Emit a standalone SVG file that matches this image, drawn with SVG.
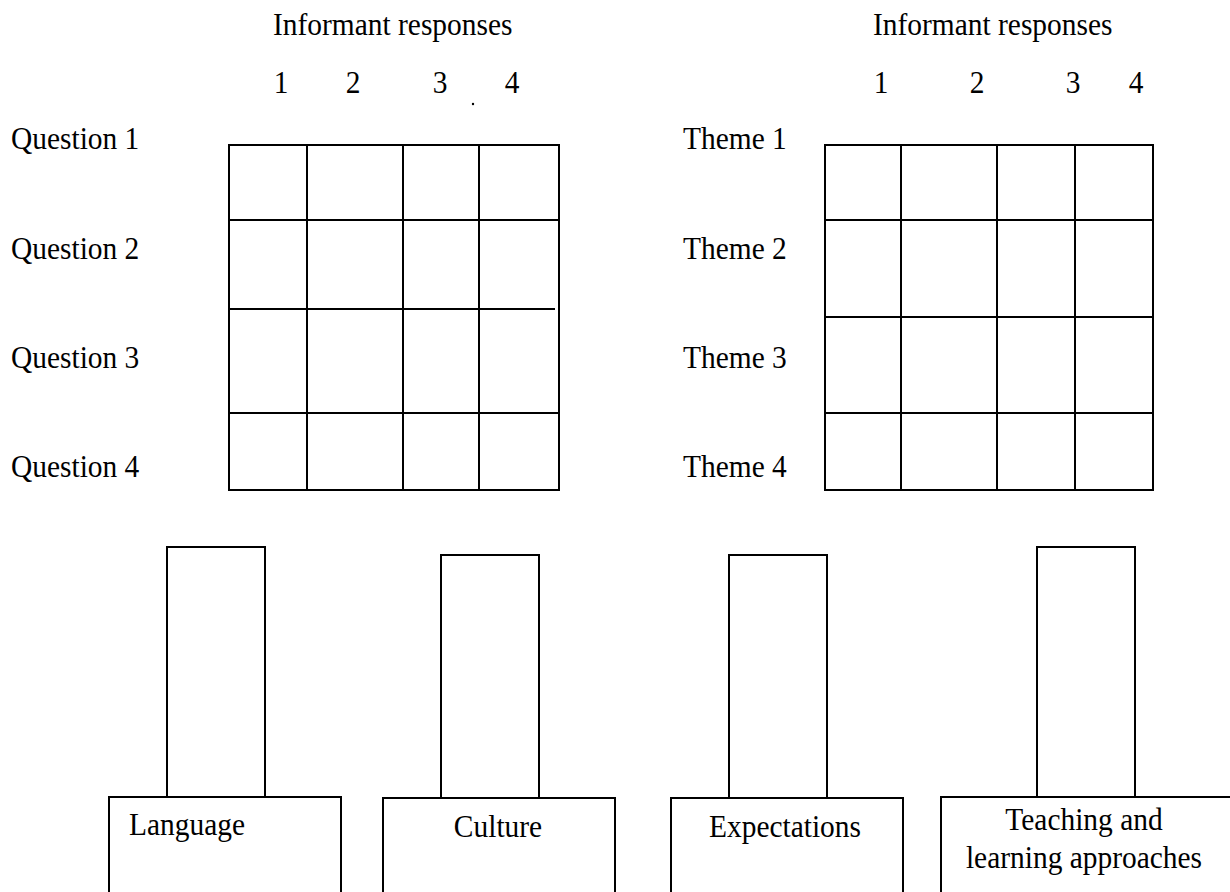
<svg xmlns="http://www.w3.org/2000/svg" width="1230" height="892" viewBox="0 0 1230 892">
<style>
text{font-family:"Liberation Serif","Times New Roman",serif;font-size:32px;fill:#000}
.c{text-anchor:middle}
.ln{stroke:#000;stroke-width:2;fill:none}
.bx{stroke:#000;stroke-width:2;fill:#fff}
</style>
<rect width="1230" height="892" fill="#fff"/>
<g id="header-left">
<text transform="translate(273,35) scale(0.92,1)">Informant responses</text>
<text class="c" transform="translate(281,93) scale(0.92,1)">1</text>
<text class="c" transform="translate(353,93) scale(0.92,1)">2</text>
<text class="c" transform="translate(440,93) scale(0.92,1)">3</text>
<text class="c" transform="translate(512,93) scale(0.92,1)">4</text>
<circle cx="473" cy="104" r="1.2" fill="#000"/>
</g>
<g id="header-right">
<text transform="translate(873,35) scale(0.92,1)">Informant responses</text>
<text class="c" transform="translate(881,93) scale(0.92,1)">1</text>
<text class="c" transform="translate(977,93) scale(0.92,1)">2</text>
<text class="c" transform="translate(1073,93) scale(0.92,1)">3</text>
<text class="c" transform="translate(1136,93) scale(0.92,1)">4</text>
</g>
<g id="question-labels">
<text transform="translate(11,149) scale(0.92,1)">Question 1</text>
<text transform="translate(11,259) scale(0.92,1)">Question 2</text>
<text transform="translate(11,368) scale(0.92,1)">Question 3</text>
<text transform="translate(11,477) scale(0.92,1)">Question 4</text>
</g>
<g id="theme-labels">
<text transform="translate(683,149) scale(0.92,1)">Theme 1</text>
<text transform="translate(683,259) scale(0.92,1)">Theme 2</text>
<text transform="translate(683,368) scale(0.92,1)">Theme 3</text>
<text transform="translate(683,477) scale(0.92,1)">Theme 4</text>
</g>
<g id="grid-questions">
<rect class="ln" x="229" y="145" width="330" height="345"/>
<line class="ln" x1="307" y1="145" x2="307" y2="490"/>
<line class="ln" x1="403" y1="145" x2="403" y2="491"/>
<line class="ln" x1="479" y1="145" x2="479" y2="490"/>
<line class="ln" x1="229" y1="220" x2="559" y2="220"/>
<line class="ln" x1="229" y1="309" x2="555" y2="309"/>
<line class="ln" x1="229" y1="413" x2="559" y2="413"/>
</g>
<g id="grid-themes">
<rect class="ln" x="825" y="145" width="328" height="345"/>
<line class="ln" x1="901" y1="145" x2="901" y2="490"/>
<line class="ln" x1="997" y1="145" x2="997" y2="490"/>
<line class="ln" x1="1075" y1="145" x2="1075" y2="490"/>
<line class="ln" x1="825" y1="220" x2="1153" y2="220"/>
<line class="ln" x1="825" y1="317" x2="1153" y2="317"/>
<line class="ln" x1="825" y1="413" x2="1153" y2="413"/>
</g>
<g id="connectors"></g>
<g id="node-language">
<rect class="bx" x="167" y="547" width="98" height="250"/>
<rect class="bx" x="109" y="797" width="232" height="110"/>
<text transform="translate(129,835) scale(0.92,1)">Language</text>
</g>
<g id="node-culture">
<rect class="bx" x="441" y="555" width="98" height="243"/>
<rect class="bx" x="383" y="798" width="232" height="110"/>
<text class="c" transform="translate(498,837) scale(0.92,1)">Culture</text>
</g>
<g id="node-expectations">
<rect class="bx" x="729" y="555" width="98" height="243"/>
<rect class="bx" x="671" y="798" width="232" height="110"/>
<text class="c" transform="translate(785,837) scale(0.92,1)">Expectations</text>
</g>
<g id="node-teaching">
<rect class="bx" x="1037" y="547" width="98" height="250"/>
<rect class="bx" x="941" y="797" width="300" height="110"/>
<text class="c" transform="translate(1084,830) scale(0.92,1)">Teaching and</text>
<text class="c" transform="translate(1084,868) scale(0.92,1)">learning approaches</text>
</g>
</svg>
